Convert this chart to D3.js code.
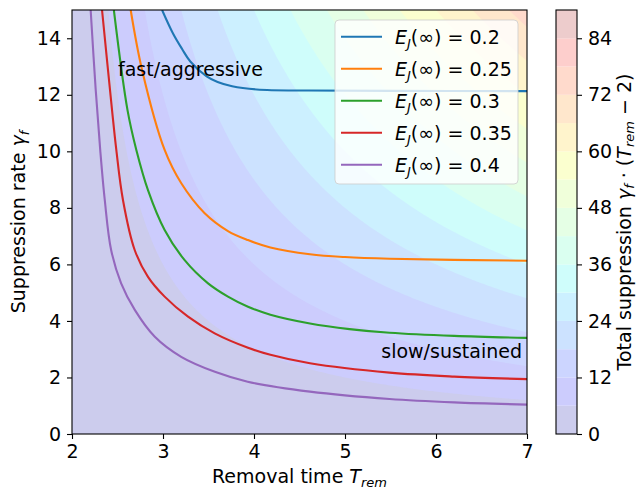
<!DOCTYPE html>
<html><head><meta charset="utf-8">
<script src="https://cdn.jsdelivr.net/npm/d3@7"></script>
<style>body{margin:0;background:#fff} text{font-family:"DejaVu Sans",sans-serif;fill:#000}</style>
</head><body><svg id="c" width="637" height="489"></svg>
<script>
// ---- data ----
const xTicks = [2, 3, 4, 5, 6, 7];
const yTicks = [0, 2, 4, 6, 8, 10, 12, 14];
const levels = [0, 6, 12, 18, 24, 30, 36, 42, 48, 54, 60, 66, 72, 78, 84, 90];
const cbTicks = [0, 12, 24, 36, 48, 60, 72, 84];
const seriesLabels = ["0.2", "0.25", "0.3", "0.35", "0.4"];
const seriesColors = ["#1f77b4", "#ff7f0e", "#2ca02c", "#d62728", "#9467bd"];
// curves: T_rem and gamma_f
const tRem_020 = [2.99, 3.11, 3.21, 3.30, 3.48, 3.6, 3.76, 4.03, 4.6, 5.5, 7.0];
const gam_020  = [15.0, 14.17, 13.62, 13.18, 12.65, 12.45, 12.30, 12.19, 12.15, 12.14, 12.13];
const tRem_025 = [2.645, 2.77, 3.018, 3.201, 3.458, 3.714, 3.934, 4.18, 4.615, 5.0, 5.49, 7.0];
const gam_025  = [15.0, 12.88, 10.05, 8.87, 7.81, 7.18, 6.86, 6.60, 6.36, 6.26, 6.20, 6.13];
const tRem_030 = [2.46, 2.61, 2.707, 2.835, 3.018, 3.238, 3.495, 3.714, 3.934, 4.18, 4.615, 5.05, 5.49, 6.2, 7.0];
const gam_030  = [15.0, 11.46, 10.05, 8.63, 7.22, 6.15, 5.33, 4.86, 4.50, 4.22, 3.91, 3.71, 3.58, 3.47, 3.40];
const tRem_035 = [2.33, 2.44, 2.487, 2.56, 2.689, 2.835, 3.018, 3.275, 3.568, 3.934, 4.18, 4.615, 5.49, 6.2, 7.0];
const gam_035  = [15.0, 11.46, 10.05, 8.28, 6.51, 5.56, 4.86, 4.15, 3.56, 3.05, 2.80, 2.50, 2.17, 2.03, 1.94];
const tRem_040 = [2.205, 2.26, 2.31, 2.36, 2.43, 2.54, 2.69, 2.91, 3.20, 3.57, 3.93, 4.615, 5.49, 6.2, 7.0];
const gam_040  = [15.0, 12.2, 10.05, 8.28, 6.51, 5.33, 4.39, 3.44, 2.73, 2.20, 1.85, 1.50, 1.24, 1.12, 1.04];
const seriesT = [tRem_020, tRem_025, tRem_030, tRem_035, tRem_040];
const seriesG = [gam_020, gam_025, gam_030, gam_035, gam_040];

// ---- layout ----
const FS = 19;
const svg = d3.select("#c");
const X0 = 72, X1 = 527, Y0 = 10, Y1 = 434;
const x = d3.scaleLinear().domain([2, 7]).range([X0, X1]);
const y = d3.scaleLinear().domain([0, 15]).range([Y1, Y0]);

// jet colormap
function jet(v) {
  const interp = (pts) => {
    for (let i = 1; i < pts.length; i++) {
      if (v <= pts[i][0]) {
        const [a, va] = pts[i - 1], [b, vb] = pts[i];
        return va + (vb - va) * (v - a) / (b - a);
      }
    }
    return pts[pts.length - 1][1];
  };
  const r = interp([[0, 0], [0.35, 0], [0.66, 1], [0.89, 1], [1, 0.5]]);
  const g = interp([[0, 0], [0.125, 0], [0.375, 1], [0.64, 1], [0.91, 0], [1, 0]]);
  const b = interp([[0, 0.5], [0.11, 1], [0.34, 1], [0.65, 0], [1, 0]]);
  const a = 0.2;
  const bl = c => Math.round(255 * (1 - a) + 255 * c * a);
  return `rgb(${bl(r)},${bl(g)},${bl(b)})`;
}
const lmin = levels[0], lmax = levels[levels.length - 1];
const bandColor = i => jet(((levels[i] + levels[i + 1]) / 2 - lmin) / (lmax - lmin));

// ---- contour field: total suppression gamma_f * (T_rem - 2) ----
const nx = 240, ny = 240;
const dx = 5 / (nx - 1), dy = 15 / (ny - 1);
const grid = new Array(nx * ny);
for (let j = 0; j < ny; j++) for (let i = 0; i < nx; i++) {
  const T = 2 + i * dx, G = 15 - j * dy;
  grid[j * nx + i] = G * (T - 2);
}
const contours = d3.contours().size([nx, ny]).thresholds(levels.slice(1, -1))(grid);
const proj = d3.geoTransform({
  point: function (gx, gy) {
    this.stream.point(x(2 + (gx - 0.5) * dx), y(15 - (gy - 0.5) * dy));
  }
});
const path = d3.geoPath(proj);

svg.append("clipPath").attr("id", "clip").append("rect")
  .attr("x", X0).attr("y", Y0).attr("width", X1 - X0).attr("height", Y1 - Y0);
const plot = svg.append("g").attr("clip-path", "url(#clip)");
plot.append("rect").attr("x", X0).attr("y", Y0).attr("width", X1 - X0).attr("height", Y1 - Y0)
  .attr("fill", bandColor(0));
plot.selectAll("path.band").data(contours).join("path").attr("class", "band")
  .attr("d", path).attr("fill", (d, i) => bandColor(i + 1)).attr("stroke", "none");

// curves
const line = d3.line().x(d => x(d[0])).y(d => y(d[1])).curve(d3.curveCatmullRom.alpha(0.5));
seriesT.forEach((ts, k) => {
  const pts = ts.map((t, i) => [t, seriesG[k][i]]);
  plot.append("path").attr("d", line(pts)).attr("fill", "none")
    .attr("stroke", seriesColors[k]).attr("stroke-width", 2.1);
});

// annotations
svg.append("text").attr("x", 118).attr("y", 76).attr("font-size", FS).text("fast/aggressive");
svg.append("text").attr("x", 522).attr("y", 358).attr("font-size", FS).attr("text-anchor", "end").text("slow/sustained");

// axes
const xAxis = d3.axisBottom(x).tickValues(xTicks).tickFormat(d3.format("d")).tickSizeOuter(0).tickSize(5).tickPadding(6);
const yAxis = d3.axisLeft(y).tickValues(yTicks).tickFormat(d3.format("d")).tickSizeOuter(0).tickSize(5).tickPadding(6);
const gx = svg.append("g").attr("transform", `translate(0,${Y1})`).call(xAxis);
const gy = svg.append("g").attr("transform", `translate(${X0},0)`).call(yAxis);
[gx, gy].forEach(g => {
  g.select(".domain").remove();
  g.selectAll("text").attr("font-size", FS).attr("font-family", "DejaVu Sans").attr("fill", "#000");
  g.selectAll("line").attr("stroke", "#000").attr("stroke-width", 1.1);
});
svg.append("rect").attr("x", X0).attr("y", Y0).attr("width", X1 - X0).attr("height", Y1 - Y0)
  .attr("fill", "none").attr("stroke", "#000").attr("stroke-width", 1.1);

// axis labels
const xl = svg.append("text").attr("x", (X0 + X1) / 2).attr("y", 483).attr("font-size", FS).attr("text-anchor", "middle");
xl.append("tspan").text("Removal time ");
xl.append("tspan").attr("font-style", "italic").text("T");
xl.append("tspan").attr("font-style", "italic").attr("font-size", 13).attr("dy", 4).text("rem");
const yl = svg.append("text").attr("transform", `translate(25,${(Y0 + Y1) / 2}) rotate(-90)`)
  .attr("font-size", FS).attr("text-anchor", "middle");
yl.append("tspan").text("Suppression rate ");
yl.append("tspan").attr("font-style", "italic").text("γ");
yl.append("tspan").attr("font-style", "italic").attr("font-size", 13).attr("dy", 4).text("f");

// legend
const lg = svg.append("g");
lg.append("rect").attr("x", 335).attr("y", 20).attr("width", 183).attr("height", 164).attr("rx", 4)
  .attr("fill", "#fff").attr("fill-opacity", 0.8).attr("stroke", "#ccc").attr("stroke-opacity", 0.8);
seriesLabels.forEach((lab, k) => {
  const cy = 36.7 + 32 * k;
  lg.append("line").attr("x1", 341).attr("x2", 382).attr("y1", cy).attr("y2", cy)
    .attr("stroke", seriesColors[k]).attr("stroke-width", 2.1);
  const t = lg.append("text").attr("x", 395).attr("y", cy + 7).attr("font-size", FS);
  t.append("tspan").attr("font-style", "italic").text("E");
  t.append("tspan").attr("font-style", "italic").attr("font-size", 13).attr("dy", 4).text("J");
  t.append("tspan").attr("dy", -4).text("(∞) = " + lab);
});

// colorbar
const CB0 = 556, CB1 = 577;
const cy = d3.scaleLinear().domain([lmin, lmax]).range([Y1, Y0]);
const cb = svg.append("g");
cb.selectAll("rect.cb").data(d3.range(levels.length - 1)).join("rect").attr("class", "cb")
  .attr("x", CB0).attr("width", CB1 - CB0)
  .attr("y", i => cy(levels[i + 1])).attr("height", i => cy(levels[i]) - cy(levels[i + 1]))
  .attr("fill", i => bandColor(i));
const cAxis = d3.axisRight(cy).tickValues(cbTicks).tickFormat(d3.format("d")).tickSize(5).tickPadding(6).tickSizeOuter(0);
const gc = svg.append("g").attr("transform", `translate(${CB1},0)`).call(cAxis);
gc.select(".domain").remove();
gc.selectAll("text").attr("font-size", FS).attr("font-family", "DejaVu Sans").attr("fill", "#000");
gc.selectAll("line").attr("stroke", "#000").attr("stroke-width", 1.1);
svg.append("rect").attr("x", CB0).attr("y", Y0).attr("width", CB1 - CB0).attr("height", Y1 - Y0)
  .attr("fill", "none").attr("stroke", "#000").attr("stroke-width", 1.1);
const cl = svg.append("text").attr("transform", `translate(631,${(Y0 + Y1) / 2}) rotate(-90)`)
  .attr("font-size", FS).attr("text-anchor", "middle");
cl.append("tspan").text("Total suppression ");
cl.append("tspan").attr("font-style", "italic").text("γ");
cl.append("tspan").attr("font-style", "italic").attr("font-size", 13).attr("dy", 3).text("f");
cl.append("tspan").attr("dy", -3).text(" · (");
cl.append("tspan").attr("font-style", "italic").text("T");
cl.append("tspan").attr("font-style", "italic").attr("font-size", 13).attr("dy", 3).text("rem");
cl.append("tspan").attr("dy", -3).text(" − 2)");
</script></body></html>
